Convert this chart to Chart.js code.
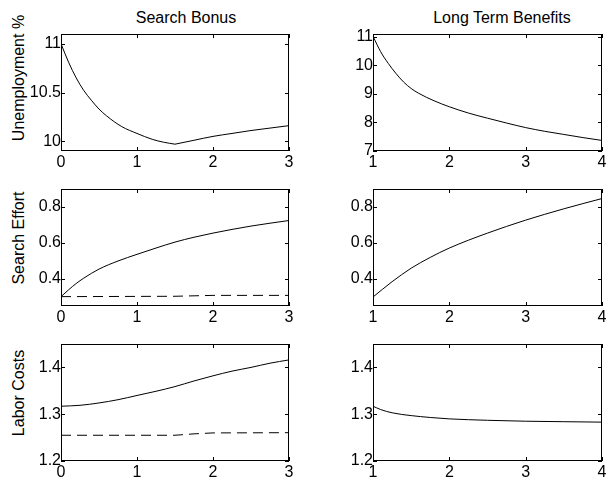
<!DOCTYPE html>
<html lang="en">
<head>
<meta charset="UTF-8">
<title>Search Bonus / Long Term Benefits</title>
<script src="https://cdn.jsdelivr.net/npm/chart.js"></script>
<style>
  body { margin: 0; background: #fff; }
  #wrap { position: relative; width: 609px; height: 486px; font-family: "Liberation Sans", Arial, Helvetica, sans-serif; color: #000; }
  #wrap canvas { position: absolute; }
  .ttl { position: absolute; top: 9px; font-size: 16px; line-height: 18px; white-space: nowrap; transform: translateX(-50%); }
  .ylab { position: absolute; font-size: 16px; line-height: 18px; white-space: nowrap; transform: translate(-50%, -50%) rotate(-90deg); }
</style>
</head>
<body>
<div id="wrap">
  <div class="ttl" style="left:186px">Search Bonus</div>
  <div class="ttl" style="left:502px">Long Term Benefits</div>
  <div class="ylab" style="left:19px; top:78px">Unemployment %</div>
  <div class="ylab" style="left:19px; top:238px">Search Effort</div>
  <div class="ylab" style="left:19px; top:393px">Labor Costs</div>

  <canvas id="c1" width="300" height="153" style="left:0; top:22px"></canvas>
  <canvas id="c2" width="304" height="153" style="left:305px; top:22px"></canvas>
  <canvas id="c3" width="300" height="153" style="left:0; top:177px"></canvas>
  <canvas id="c4" width="304" height="153" style="left:305px; top:177px"></canvas>
  <canvas id="c5" width="300" height="153" style="left:0; top:332px"></canvas>
  <canvas id="c6" width="304" height="153" style="left:305px; top:332px"></canvas>
</div>

<script>
// ---- data ----
// search bonus (left column)
const bonusX      = [0, 0.1, 0.2, 0.3, 0.4, 0.5, 0.6, 0.8, 1.0, 1.2, 1.35, 1.5, 1.75, 2.0, 2.25, 2.5, 2.75, 3.0];
const unempBonus  = [11.0, 10.81, 10.65, 10.52, 10.42, 10.33, 10.26, 10.15, 10.08, 10.02, 9.99, 9.97, 10.01, 10.05, 10.08, 10.11, 10.135, 10.16];
const bonusKink   = 1.5;   // bonus scheme switches here, curve has a corner

const effortX      = [0, 0.1, 0.2, 0.3, 0.5, 0.75, 1.0, 1.25, 1.5, 1.75, 2.0, 2.5, 3.0];
const effortBonus  = [0.302, 0.34, 0.375, 0.405, 0.455, 0.50, 0.537, 0.572, 0.605, 0.632, 0.655, 0.694, 0.725];
const effortBaseX  = [0, 1.5, 2.0, 3.0];
const effortBase   = [0.302, 0.304, 0.309, 0.309];

const costX      = [0, 0.25, 0.5, 0.75, 1.0, 1.25, 1.5, 1.75, 2.0, 2.25, 2.5, 2.75, 3.0];
const costBonus  = [1.317, 1.319, 1.324, 1.331, 1.34, 1.349, 1.359, 1.371, 1.382, 1.392, 1.40, 1.409, 1.416];
const costBaseX  = [0, 1.5, 1.75, 2.0, 3.0];
const costBase   = [1.255, 1.255, 1.258, 1.260, 1.2605];

// long term benefits (right column)
const benefitX    = [1, 1.1, 1.2, 1.3, 1.4, 1.5, 1.6, 1.8, 2, 2.25, 2.5, 2.75, 3, 3.25, 3.5, 3.75, 4];
const unempLtb    = [11.02, 10.48, 10.07, 9.72, 9.42, 9.19, 9.02, 8.76, 8.55, 8.33, 8.15, 7.98, 7.82, 7.69, 7.58, 7.47, 7.37];

const ltbX        = [1, 1.25, 1.5, 1.75, 2, 2.5, 3, 3.5, 4];
const effortLtb   = [0.30, 0.385, 0.46, 0.52, 0.572, 0.655, 0.727, 0.79, 0.847];

const costLtbX    = [1, 1.1, 1.25, 1.5, 1.75, 2, 2.5, 3, 3.5, 4];
const costLtb     = [1.317, 1.31, 1.303, 1.297, 1.293, 1.29, 1.287, 1.285, 1.284, 1.283];

// ticks
const bonusTicks   = [0, 1, 2, 3];
const ltbTicks     = [1, 2, 3, 4];
const unempTicksL  = [10, 10.5, 11];
const unempTicksR  = [7, 8, 9, 10, 11];
const effortTicks  = [0.4, 0.6, 0.8];
const costTicks    = [1.2, 1.3, 1.4];

const FONT = '"Liberation Sans", Arial, Helvetica, sans-serif';

// box with inward tick marks on all four sides
const frame = {
  id: 'frame',
  afterDraw(chart) {
    const { ctx, chartArea: a, scales: { x, y } } = chart;
    const len = 4;
    ctx.save();
    ctx.strokeStyle = '#000';
    ctx.lineWidth = 1;
    ctx.beginPath();
    x.ticks.forEach(t => {
      const px = Math.round(x.getPixelForValue(t.value)) + 0.5;
      ctx.moveTo(px, a.bottom); ctx.lineTo(px, a.bottom - len);
      ctx.moveTo(px, a.top); ctx.lineTo(px, a.top + len);
    });
    y.ticks.forEach(t => {
      const py = Math.round(y.getPixelForValue(t.value)) + 0.5;
      ctx.moveTo(a.left, py); ctx.lineTo(a.left + len, py);
      ctx.moveTo(a.right, py); ctx.lineTo(a.right - len, py);
    });
    ctx.stroke();
    ctx.strokeRect(a.left + 0.5, a.top + 0.5, a.width - 1, a.height - 1);
    ctx.restore();
  }
};

function pts(xs, ys) {
  return xs.map((v, i) => ({ x: v, y: ys[i] }));
}

function panel(id, series, xr, xt, yr, yt, right) {
  const axisW = right ? 68 : 61;
  new Chart(document.getElementById(id), {
    type: 'line',
    data: {
      datasets: series.map(s => ({
        data: s.data,
        borderColor: '#000',
        borderWidth: 1,
        borderDash: s.dash ? [10, 6] : [],
        pointRadius: 0,
        tension: s.dash ? 0 : 0.4,
        cubicInterpolationMode: s.dash ? 'default' : 'monotone',
        fill: false
      }))
    },
    options: {
      responsive: false,
      animation: false,
      devicePixelRatio: 1,
      layout: { padding: { top: 12, right: right ? 7 : 11, left: 0, bottom: 0 } },
      plugins: { legend: { display: false }, tooltip: { enabled: false } },
      scales: {
        x: {
          type: 'linear', min: xr[0], max: xr[1],
          grid: { display: false, drawTicks: false },
          border: { display: false },
          afterBuildTicks: s => { s.ticks = xt.map(v => ({ value: v })); },
          afterFit: s => { s.height = 24; },
          ticks: { color: '#000', padding: 2, maxRotation: 0, font: { family: FONT, size: 16 }, callback: v => String(v) }
        },
        y: {
          min: yr[0], max: yr[1],
          grid: { display: false, drawTicks: false },
          border: { display: false },
          afterBuildTicks: s => { s.ticks = yt.map(v => ({ value: v })); },
          afterFit: s => { s.width = axisW; },
          ticks: { color: '#000', padding: 0, font: { family: FONT, size: 16 }, callback: v => String(v) }
        }
      }
    },
    plugins: [frame]
  });
}

// the search-bonus unemployment curve has a corner at the switch point,
// so it is drawn as two smooth pieces that meet there
const unempBonusPts = pts(bonusX, unempBonus);

panel('c1', [
  { data: unempBonusPts.filter(p => p.x <= bonusKink) },
  { data: unempBonusPts.filter(p => p.x >= bonusKink) }
], [0, 3], bonusTicks, [9.9, 11.1], unempTicksL, false);
panel('c2', [{ data: pts(benefitX, unempLtb) }], [1, 4], ltbTicks, [7, 11.1], unempTicksR, true);
panel('c3', [{ data: pts(effortX, effortBonus) }, { data: pts(effortBaseX, effortBase), dash: true }], [0, 3], bonusTicks, [0.25, 0.9], effortTicks, false);
panel('c4', [{ data: pts(ltbX, effortLtb) }], [1, 4], ltbTicks, [0.25, 0.9], effortTicks, true);
panel('c5', [{ data: pts(costX, costBonus) }, { data: pts(costBaseX, costBase), dash: true }], [0, 3], bonusTicks, [1.2, 1.45], costTicks, false);
panel('c6', [{ data: pts(costLtbX, costLtb) }], [1, 4], ltbTicks, [1.2, 1.45], costTicks, true);
</script>
</body>
</html>
